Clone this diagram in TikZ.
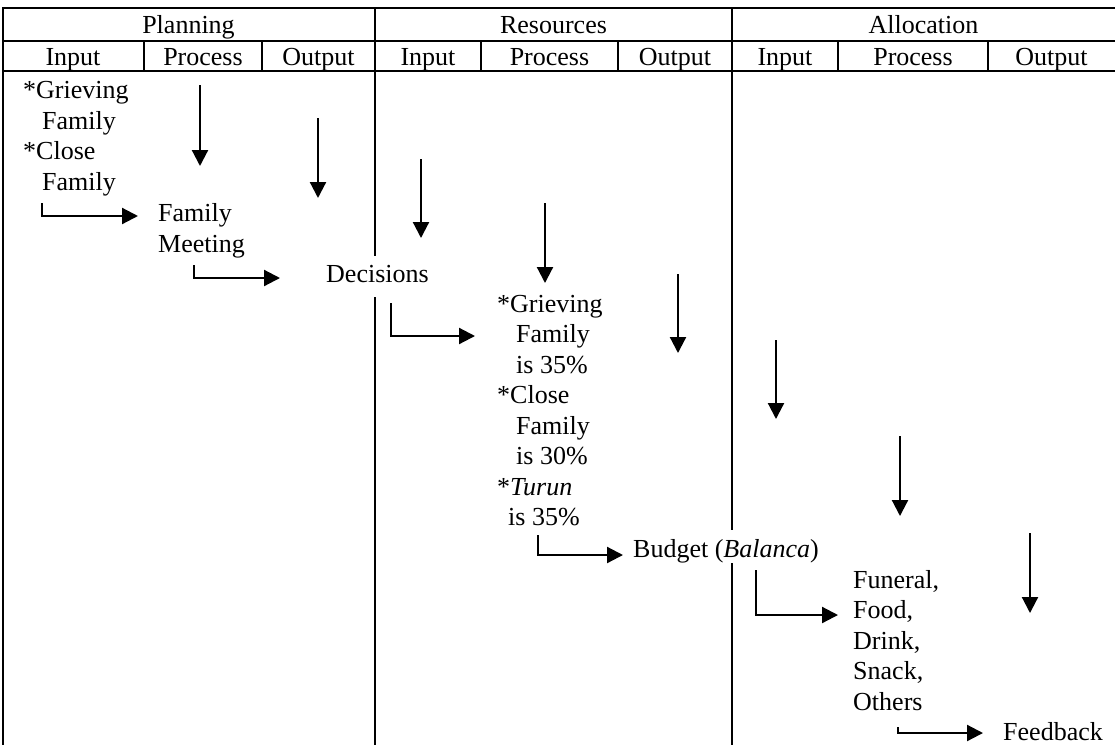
\documentclass[tikz,border=0pt]{standalone}
\usepackage{fontspec}
\setmainfont{Liberation Serif}
\usetikzlibrary{arrows.meta}
\tikzset{
  rule/.style={line width=2.2pt},
  flow/.style={line width=2.2pt,-{Triangle[width=16pt,length=16pt]}},
  elbow/.style={flow},
  txt/.style={inner sep=0pt,anchor=base west,align=left,font=\fontsize{26}{30.5}\selectfont},
  head/.style={inner sep=0pt,anchor=base,font=\fontsize{26}{30.5}\selectfont},
}
\begin{document}
\begin{tikzpicture}[x=1pt,y=-1pt]
\useasboundingbox (0,0) rectangle (1115,745);
% table rules
\draw[rule] (2,8) -- (1115,8);
\draw[rule] (2,41) -- (1115,41);
\draw[rule] (2,71) -- (1115,71);
\draw[rule] (3,7) -- (3,745);
\draw[rule] (375,7) -- (375,745);
\draw[rule] (732,7) -- (732,745);
\foreach \x in {144,262,481,618,838,988} \draw[rule] (\x,41) -- (\x,71);
% headers
\node[head] (hplan) at (188.5,33) {Planning};
\node[head] (hres) at (553.5,33) {Resources};
\node[head] (halloc) at (923.5,33) {Allocation};
\node[head] (pin) at (73,65) {Input};
\node[head] (ppr) at (203,65) {Process};
\node[head] (pout) at (318.5,65) {Output};
\node[head] (rin) at (428,65) {Input};
\node[head] (rpr) at (549.5,65) {Process};
\node[head] (rout) at (675,65) {Output};
\node[head] (ain) at (785,65) {Input};
\node[head] (apr) at (913,65) {Process};
\node[head] (aout) at (1051.5,65) {Output};
% body texts (anchor = baseline of the last line)
\node[txt] (fam) at (23,190) {*Grieving\\\hspace*{19pt}Family\\*Close\\\hspace*{19pt}Family};
\node[txt] (meet) at (158,252) {Family\\Meeting};
\node[txt,fill=white,text height=26pt,text depth=15pt] (dec) at (326,282) {Decisions};
\node[txt] (share) at (497,525.5) {*Grieving\\\hspace*{19pt}Family\\\hspace*{19pt}is 35\%\\*Close\\\hspace*{19pt}Family\\\hspace*{19pt}is 30\%\\*\textit{Turun}\\\hspace*{11pt}is 35\%};
\node[txt,fill=white,text height=27pt,text depth=6pt] (bud) at (633,557) {Budget (\textit{Balanca})};
\node[txt] (items) at (853,710) {Funeral,\\Food,\\Drink,\\Snack,\\Others};
\node[txt] (fb) at (1003,740) {Feedback};
% vertical flow arrows
\coordinate (a1s) at (200,85);  \coordinate (a1e) at (200,166);
\coordinate (a2s) at (318,118); \coordinate (a2e) at (318,198);
\coordinate (a3s) at (421,159); \coordinate (a3e) at (421,238);
\coordinate (a4s) at (545,203); \coordinate (a4e) at (545,283);
\coordinate (a5s) at (678,274); \coordinate (a5e) at (678,353);
\coordinate (a6s) at (776,340); \coordinate (a6e) at (776,419);
\coordinate (a7s) at (900,436); \coordinate (a7e) at (900,516);
\coordinate (a8s) at (1030,533); \coordinate (a8e) at (1030,613);
\foreach \i in {1,...,8} \draw[flow] (a\i s) -- (a\i e);
% elbow arrows
\coordinate (e1s) at (42,203);  \coordinate (e1e) at (138,216);
\coordinate (e2s) at (194,265); \coordinate (e2e) at (280,278);
\coordinate (e3s) at (391,303); \coordinate (e3e) at (475,336);
\coordinate (e4s) at (538,535); \coordinate (e4e) at (623,555);
\coordinate (e5s) at (756,570); \coordinate (e5e) at (838,615);
\coordinate (e6s) at (898,727); \coordinate (e6e) at (983,733);
\foreach \i in {1,...,6} \draw[elbow] (e\i s) |- (e\i e);
\end{tikzpicture}
\end{document}
